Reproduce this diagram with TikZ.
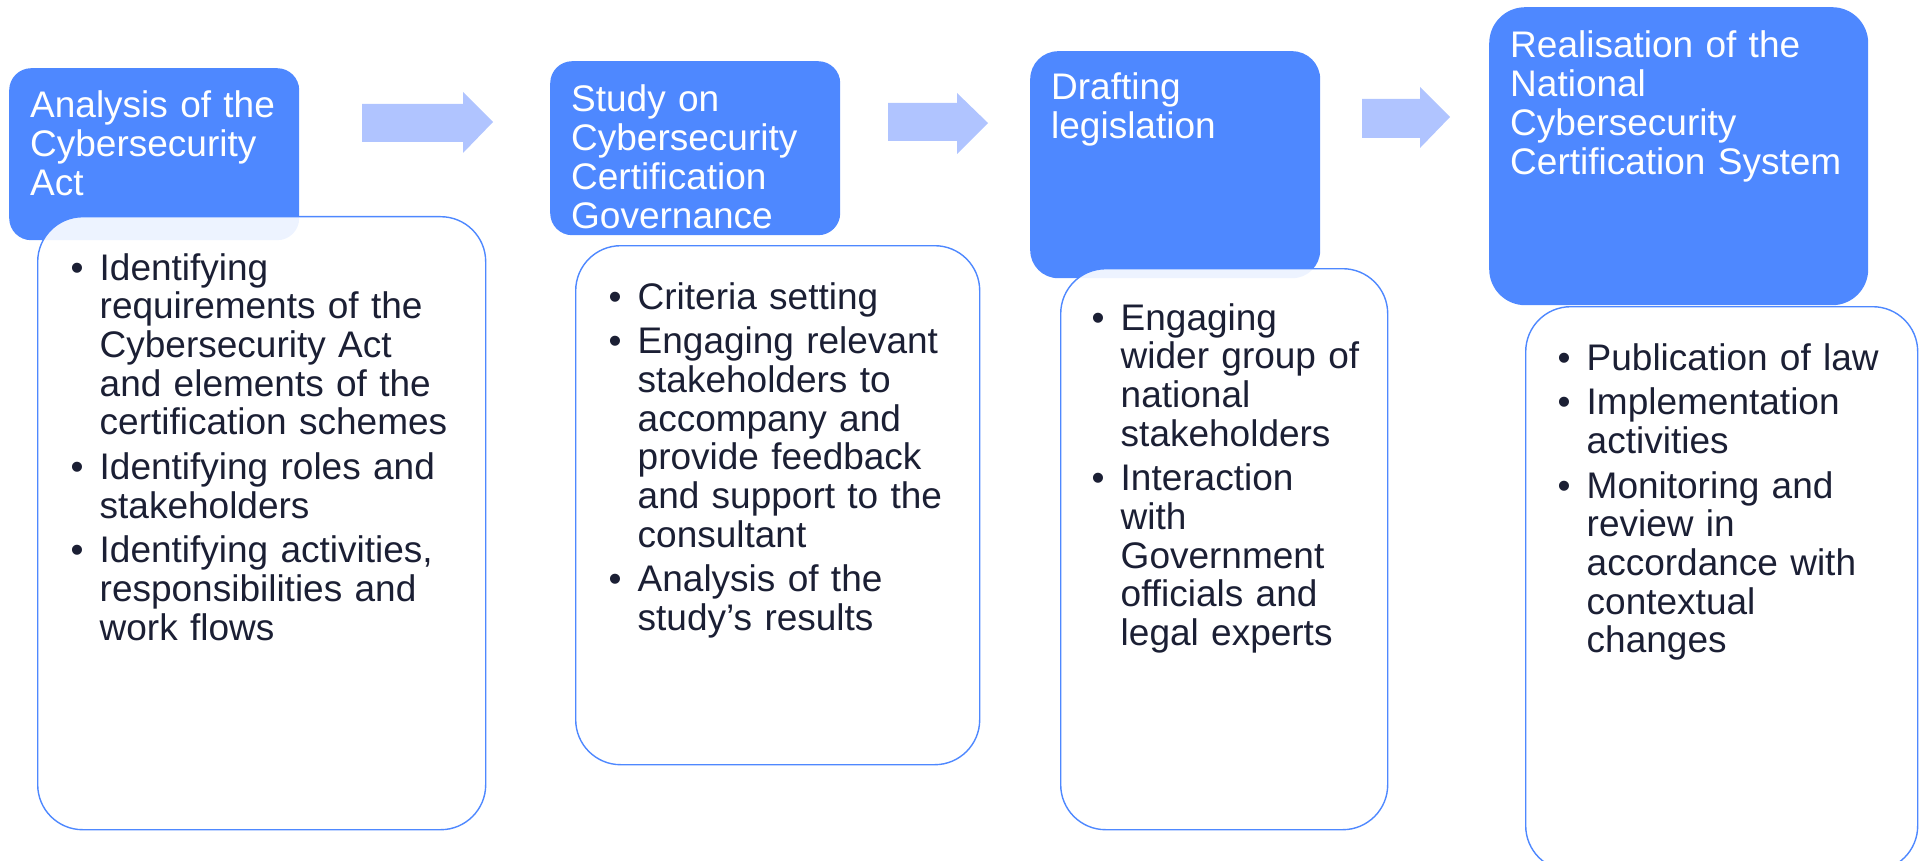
\documentclass[tikz,border=0pt]{standalone}
\usepackage{fontspec}
\setmainfont{Liberation Sans}
\usepackage{tikz}
\usetikzlibrary{positioning}

\definecolor{hdblue}{RGB}{78,136,255}
\definecolor{arrblue}{RGB}{176,196,255}
\definecolor{navy}{RGB}{27,31,52}

\newcommand{\bul}{\makebox[29pt][l]{\textbullet}}
\newcommand{\cnt}{\hspace*{29pt}}

\tikzset{
	hdbox/.style={fill=hdblue, draw=none, anchor=north west, inner sep=0pt},
	bodybox/.style={draw=hdblue, line width=1.4pt, fill=white, fill opacity=0.9, anchor=north west, inner sep=0pt, rounded corners=45pt},
	hdtext/.style={text=white, font=\fontsize{37}{38.7}\selectfont, align=left, text width=400pt, inner sep=0pt, anchor=base west},
	bodytext/.style={text=navy, font=\fontsize{37}{38.7}\selectfont, align=left, text width=420pt, inner sep=0pt, anchor=base west},
	blockarrow/.style={fill=arrblue, draw=none}
}

\begin{document}
\begin{tikzpicture}[x=1pt,y=-1pt]
	\useasboundingbox (0,0) rectangle (1919,861);
	% step 1
	\node[hdbox, rounded corners=22pt, minimum width=290pt, minimum height=172pt] (h1) at (9,68) {};
	\node[hdtext] (h1t) at ([shift={(21pt,-50pt)}]h1.north west) {Analysis of the\\Cybersecurity\\Act};
	\node[bodybox, minimum width=448pt, minimum height=613pt] (b1) at (37,216) {};
	\node[bodytext] (b1t) at ([shift={(33.5pt,-64pt)}]b1.north west) {\bul Identifying\\\cnt requirements of the\\\cnt Cybersecurity Act\\\cnt and elements of the\\\cnt certification schemes\\[6pt]\bul Identifying roles and\\\cnt stakeholders\\[6pt]\bul Identifying activities,\\\cnt responsibilities and\\\cnt work flows};
	% step 2
	\node[hdbox, rounded corners=22pt, minimum width=290pt, minimum height=174pt] (h2) at (550,61) {};
	\node[hdtext] (h2t) at ([shift={(21pt,-51pt)}]h2.north west) {Study on\\Cybersecurity\\Certification\\Governance};
	\node[bodybox, minimum width=404pt, minimum height=519pt] (b2) at (575,245) {};
	\node[bodytext] (b2t) at ([shift={(33.5pt,-64pt)}]b2.north west) {\bul Criteria setting\\[6pt]\bul Engaging relevant\\\cnt stakeholders to\\\cnt accompany and\\\cnt provide feedback\\\cnt and support to the\\\cnt consultant\\[6pt]\bul Analysis of the\\\cnt study’s results};
	% step 3
	\node[hdbox, rounded corners=28pt, minimum width=290pt, minimum height=227pt] (h3) at (1030,51) {};
	\node[hdtext] (h3t) at ([shift={(21pt,-49pt)}]h3.north west) {Drafting\\legislation};
	\node[bodybox, minimum width=327pt, minimum height=561pt] (b3) at (1060,268) {};
	\node[bodytext] (b3t) at ([shift={(31.5pt,-62pt)}]b3.north west) {\bul Engaging\\\cnt wider group of\\\cnt national\\\cnt stakeholders\\[6pt]\bul Interaction\\\cnt with\\\cnt Government\\\cnt officials and\\\cnt legal experts};
	% step 4
	\node[hdbox, rounded corners=36pt, minimum width=379pt, minimum height=298pt] (h4) at (1489,7) {};
	\node[hdtext] (h4t) at ([shift={(21pt,-51pt)}]h4.north west) {Realisation of the\\National\\Cybersecurity\\Certification System};
	\node[bodybox, minimum width=392pt, minimum height=564pt] (b4) at (1525,306) {};
	\node[bodytext] (b4t) at ([shift={(32.5pt,-64pt)}]b4.north west) {\bul Publication of law\\[6pt]\bul Implementation\\\cnt activities\\[6pt]\bul Monitoring and\\\cnt review in\\\cnt accordance with\\\cnt contextual\\\cnt changes};
	% block arrows between the steps
	\fill[blockarrow] (362,104) -- (463,104) -- (463,92) -- (493,122) -- (463,153) -- (463,142) -- (362,142) -- cycle;
	\fill[blockarrow] (888,103) -- (957,103) -- (957,93) -- (988,123) -- (957,154) -- (957,141) -- (888,141) -- cycle;
	\fill[blockarrow] (1362,99) -- (1420,99) -- (1420,87) -- (1450,117) -- (1420,148) -- (1420,138) -- (1362,138) -- cycle;
\end{tikzpicture}
\end{document}
